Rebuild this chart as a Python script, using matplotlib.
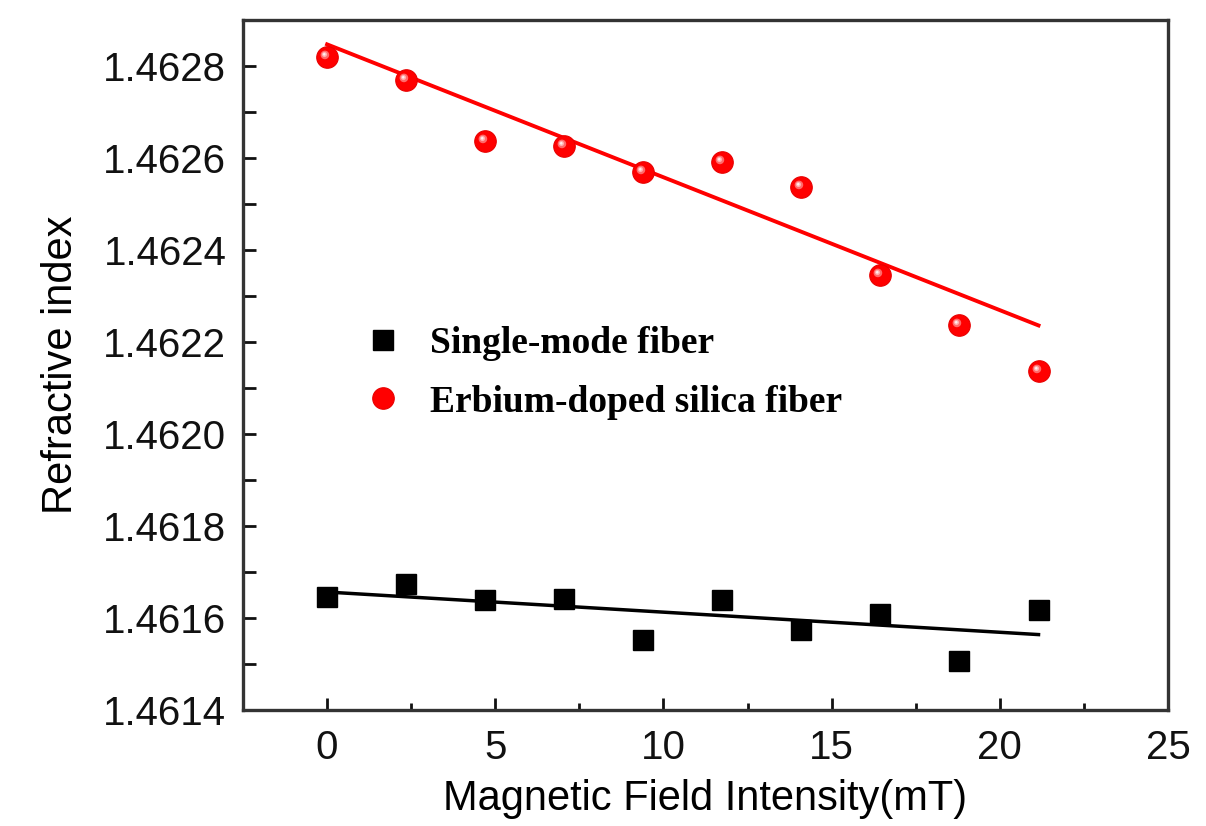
import numpy as np
import matplotlib
matplotlib.use("Agg")
import matplotlib.pyplot as plt
from matplotlib.path import Path
from matplotlib.ticker import MultipleLocator, FormatStrFormatter

OUT = "out.png"

# values
field_mT = [0.0, 2.35, 4.7, 7.05, 9.4, 11.75, 14.1, 16.45, 18.8, 21.15]
smf_index = [1.461646, 1.461673, 1.461640, 1.461642, 1.461553,
             1.461640, 1.461573, 1.461609, 1.461506, 1.461618]
edf_index = [1.462819, 1.462770, 1.462638, 1.462625, 1.462570,
             1.462592, 1.462537, 1.462345, 1.462237, 1.462136]

# fitted lines as drawn (end points)
fit_x = [0.0, 21.15]
smf_fit = [1.4616565, 1.4615640]
edf_fit = [1.4628470, 1.4622360]

labels = ["Single-mode fiber", "Erbium-doped silica fiber"]


def highlight_marker(cx, cy, r):
    # circle off the marker centre; the lone MOVETO pins the scale
    t = np.linspace(0, 2 * np.pi, 40)
    verts = [(0.5, 0.0)] + [(cx + r * np.cos(a), cy + r * np.sin(a)) for a in t]
    codes = [Path.MOVETO, Path.MOVETO] + [Path.LINETO] * (len(t) - 1)
    return Path(verts, codes)


def main():
    fig = plt.figure(figsize=(12.06, 8.26), dpi=100)
    ax = fig.add_axes([0.2015, 0.1404, 0.767, 0.8354])

    ax.plot(fit_x, smf_fit, color="black", lw=2.5, zorder=2)
    ax.plot(fit_x, edf_fit, color="red", lw=2.8, zorder=2)

    sq, = ax.plot(field_mT, smf_index, ls="none", marker="s", ms=14,
                  color="black", zorder=3)
    ball, = ax.plot(field_mT, edf_index, ls="none", marker="o", ms=15.5,
                    color="#ff0000", mec="#e80000", mew=0.8, zorder=3)
    # shiny spot on the spheres
    ax.plot(field_mT, edf_index, ls="none",
            marker=highlight_marker(-0.12, 0.12, 0.2), ms=15.5,
            color="#ff6a6a", mew=0, zorder=4)
    ax.plot(field_mT, edf_index, ls="none",
            marker=highlight_marker(-0.14, 0.14, 0.12), ms=15.5,
            color="#ffb0b0", mew=0, zorder=5)
    ax.plot(field_mT, edf_index, ls="none",
            marker=highlight_marker(-0.15, 0.15, 0.06), ms=15.5,
            color="#ffeeee", mew=0, zorder=6)

    ax.set_xlim(-2.5, 25)
    ax.set_ylim(1.4614, 1.4629)
    ax.xaxis.set_major_locator(MultipleLocator(5))
    ax.xaxis.set_minor_locator(MultipleLocator(2.5))
    ax.yaxis.set_major_locator(MultipleLocator(0.0002))
    ax.yaxis.set_minor_locator(MultipleLocator(0.0001))
    ax.yaxis.set_major_formatter(FormatStrFormatter("%.4f"))

    ax.tick_params(which="both", direction="in", width=2, labelsize=29,
                   colors="#111111")
    ax.tick_params(axis="x", which="major", length=9, pad=14)
    ax.tick_params(axis="x", which="minor", length=5)
    ax.tick_params(axis="y", which="both", length=9, pad=12)
    ax.tick_params(top=False, right=False)
    for sp in ax.spines.values():
        sp.set_linewidth(2.4)
        sp.set_color("#333333")

    ax.set_xlabel("Magnetic Field Intensity(mT)", fontsize=30, labelpad=8)
    ax.set_ylabel("Refractive index", fontsize=30, labelpad=16)
    for t in ax.get_xticklabels() + ax.get_yticklabels():
        t.set_family("Liberation Sans")
    ax.xaxis.label.set_family("Liberation Sans")
    ax.yaxis.label.set_family("Liberation Sans")

    ax.legend([sq, ball], labels, loc="upper left",
              bbox_to_anchor=(0.095, 0.605), frameon=False,
              prop={"family": "Liberation Serif", "weight": "bold", "size": 27},
              handlelength=1.0, handletextpad=0.75, labelspacing=0.62,
              markerscale=1.0)

    fig.savefig(OUT, dpi=100)
    plt.close(fig)


if __name__ == "__main__":
    main()
